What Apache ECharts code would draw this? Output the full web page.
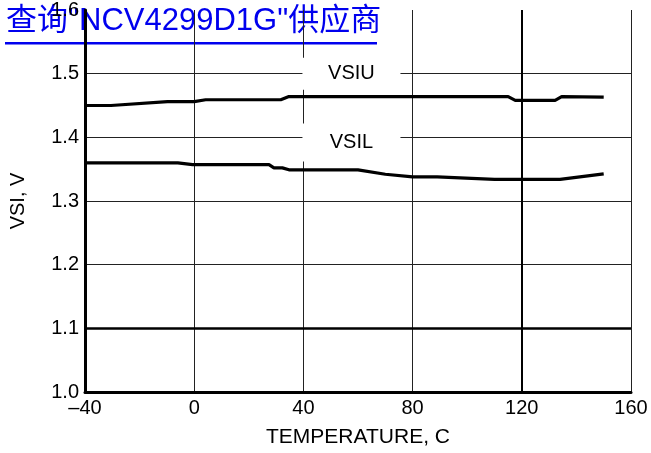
<!DOCTYPE html>
<html>
<head>
<meta charset="utf-8">
<script src="https://cdn.jsdelivr.net/npm/echarts@6/dist/echarts.min.js"></script>
<style>html,body{margin:0;padding:0;background:#fff;}#c{width:651px;height:453px;}</style>
</head>
<body>
<div id="c"></div>
<script>
const titleText = '查询"NCV4299D1G"供应商';
const xTicks = [-40, 0, 40, 80, 120, 160];
const yTicks = [1.0, 1.1, 1.2, 1.3, 1.4, 1.5, 1.6];
const tempU = [-40, -30.5, -9.8, 0, 4.2, 31.7, 34.7, 115, 117.6, 132.2, 134.6, 150];
const vsiU  = [1.450, 1.450, 1.456, 1.456, 1.459, 1.459, 1.464, 1.464, 1.458, 1.458, 1.464, 1.463];
const tempL = [-40, -6, -0.6, 27.4, 29.2, 32.3, 34.7, 60, 70, 80, 89, 110, 134, 150];
const vsiL  = [1.360, 1.360, 1.357, 1.357, 1.352, 1.352, 1.349, 1.349, 1.342, 1.338, 1.338, 1.334, 1.334, 1.3425];
const seriesNames = ['VSIU', 'VSIL'];
const labelPos = [[57.6, 1.5], [57.6, 1.392]];

const FONT = '"Liberation Sans", Arial, sans-serif';
const chart = echarts.init(document.getElementById('c'), null, {renderer: 'canvas'});
const pairs = (xs, ys) => xs.map((x, i) => [x, ys[i]]);
const boxLabel = (name, h) => ({
  show: true, position: 'inside', formatter: name,
  color: '#000', fontFamily: FONT, fontSize: 20,
  backgroundColor: '#fff', width: 98, height: h, align: 'center', verticalAlign: 'middle', lineHeight: h
});

chart.setOption({
  animation: false,
  backgroundColor: '#fff',
  grid: {left: 83, right: 20, top: 7, bottom: 60.5, containLabel: false},
  graphic: [
    {type: 'text', left: 6, top: 6, z: -10, zlevel: 0,
     style: {text: titleText, fill: '#0000ee', font: '31px "Liberation Sans", "Noto Sans CJK SC", sans-serif'}},
    {type: 'rect', left: 5, top: 42, z: -10, zlevel: 0, shape: {width: 372, height: 2.5}, style: {fill: '#0000ee'}}
  ],
  xAxis: {
    type: 'value', min: xTicks[0], max: xTicks[xTicks.length - 1], interval: 40,
    name: 'TEMPERATURE, C', nameLocation: 'middle', nameGap: 35,
    nameTextStyle: {color: '#000', fontFamily: FONT, fontSize: 21},
    axisLine: {show: true, onZero: false, lineStyle: {color: '#000', width: 3}},
    axisTick: {show: false},
    axisLabel: {color: '#000', fontFamily: FONT, fontSize: 20, margin: 6,
      formatter: v => (v < 0 ? '\u2013' + Math.abs(v) : String(v))},
    splitLine: {show: true, showMinLine: false, lineStyle: {color: '#222', width: 1}}
  },
  yAxis: {
    type: 'value', min: yTicks[0], max: yTicks[yTicks.length - 1], interval: 0.1,
    name: 'VSI, V', nameLocation: 'middle', nameGap: 57,
    nameTextStyle: {color: '#000', fontFamily: FONT, fontSize: 20},
    axisLine: {show: true, onZero: false, lineStyle: {color: '#000', width: 3}},
    axisTick: {show: false},
    axisLabel: {color: '#000', fontFamily: FONT, fontSize: 20, margin: 6,
      formatter: v => v.toFixed(1)},
    splitLine: {show: true, showMinLine: false, showMaxLine: false, lineStyle: {color: '#222', width: 1}}
  },
  series: [
    {type: 'line', name: seriesNames[0], data: pairs(tempU, vsiU), symbol: 'none',
     lineStyle: {color: '#000', width: 3.2}, z: 5,
     markLine: {silent: true, symbol: 'none', label: {show: false},
       lineStyle: {color: '#000', type: 'solid'},
       data: [{yAxis: 1.1, lineStyle: {width: 2.5}}, {xAxis: 120, lineStyle: {width: 2}}]},
     markPoint: {symbol: 'rect', symbolSize: 0, z: 10,
       data: [{coord: labelPos[0], label: boxLabel(seriesNames[0], 32)}]}},
    {type: 'line', name: seriesNames[1], data: pairs(tempL, vsiL), symbol: 'none',
     lineStyle: {color: '#000', width: 3.2}, z: 5,
     markPoint: {symbol: 'rect', symbolSize: 0, z: 10,
       data: [{coord: labelPos[1], label: boxLabel(seriesNames[1], 38)}]}}
  ]
});
</script>
</body>
</html>
